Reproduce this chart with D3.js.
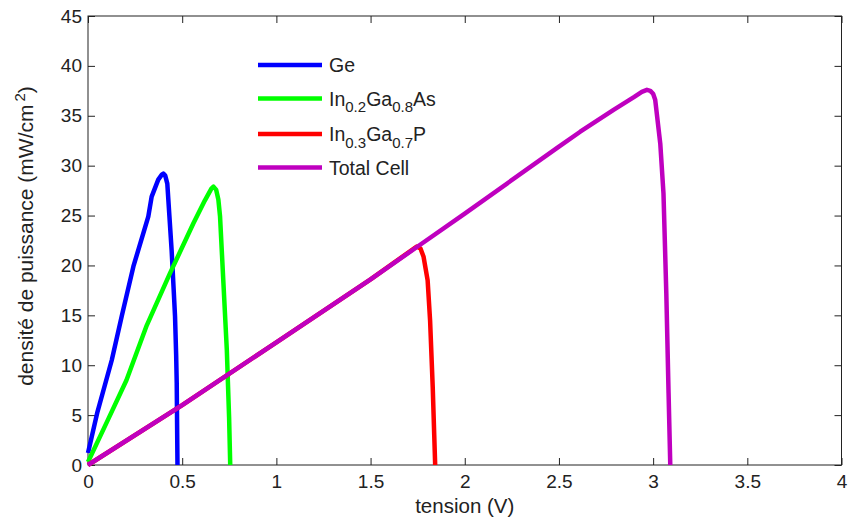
<!DOCTYPE html>
<html>
<head>
<meta charset="utf-8">
<script src="https://cdn.jsdelivr.net/npm/d3@7"></script>
<style>
  body { margin: 0; background: #fff; }
  text { font-family: Arial, "Liberation Sans", sans-serif; fill: #222; }
</style>
</head>
<body>
<script>
const W = 848, H = 519;
const margin = {left: 88, top: 16, right: 6.5, bottom: 54};

// courbes P(V)
const geV = [0, 0.05, 0.126, 0.179, 0.241, 0.32, 0.338, 0.373, 0.392, 0.40, 0.41, 0.421, 0.432, 0.444, 0.455, 0.462, 0.468, 0.471, 0.473, 0.475];
const geP = [1.2, 5.3, 10.5, 14.9, 19.9, 24.9, 26.9, 28.6, 29.1, 29.2, 29.0, 28.2, 25.0, 21.5, 17.5, 14.9, 11.0, 8.2, 4.0, 0];

const ingaasV = [0, 0.1, 0.204, 0.312, 0.435, 0.559, 0.62, 0.655, 0.666, 0.68, 0.692, 0.701, 0.719, 0.737, 0.749, 0.755];
const ingaasP = [0.3, 4.3, 8.5, 14.0, 19.2, 24.2, 26.5, 27.7, 27.9, 27.6, 26.6, 24.9, 18.2, 11.5, 4.8, 0];

const ingapV = [0, 0.5, 1, 1.5, 1.745, 1.765, 1.781, 1.803, 1.816, 1.830, 1.838, 1.843];
const ingapP = [0, 6.0, 12.3, 18.6, 21.9, 21.7, 20.9, 18.5, 14.5, 7.8, 3.0, 0];

const totalV = [0, 0.5, 1, 1.5, 1.75, 2, 2.5, 2.613, 2.79, 2.9, 2.94, 2.967, 2.985, 3.0, 3.011, 3.038, 3.055, 3.07, 3.082, 3.091];
const totalP = [0, 6.0, 12.3, 18.6, 21.9, 25.2, 31.9, 33.4, 35.6, 36.9, 37.4, 37.6, 37.5, 37.2, 36.6, 32.2, 27.2, 17.2, 7.2, 0];

const series = [
  {name: ['Ge'], v: geV, p: geP, color: '#0000ff'},
  {name: ['In', '0.2', 'Ga', '0.8', 'As'], v: ingaasV, p: ingaasP, color: '#00ff00'},
  {name: ['In', '0.3', 'Ga', '0.7', 'P'], v: ingapV, p: ingapP, color: '#ff0000'},
  {name: ['Total Cell'], v: totalV, p: totalP, color: '#bf00bf'}
];

const xTicks = [0, 0.5, 1, 1.5, 2, 2.5, 3, 3.5, 4];
const yTicks = [0, 5, 10, 15, 20, 25, 30, 35, 40, 45];

const svg = d3.select('body').append('svg').attr('width', W).attr('height', H);

const x = d3.scaleLinear().domain([0, 4]).range([margin.left, W - margin.right]);
const y = d3.scaleLinear().domain([0, 45]).range([H - margin.bottom, margin.top]);

// axes avec graduations vers l'intérieur
const tk = 7;
svg.append('g').attr('transform', `translate(0,${y(0)})`)
  .call(d3.axisBottom(x).tickValues(xTicks).tickSize(-tk).tickPadding(10).tickFormat(d3.format('')))
  .call(g => g.select('.domain').remove());
svg.append('g').attr('transform', `translate(0,${y(45)})`)
  .call(d3.axisTop(x).tickValues(xTicks).tickSize(-tk).tickFormat(''))
  .call(g => g.select('.domain').remove());
svg.append('g').attr('transform', `translate(${x(0)},0)`)
  .call(d3.axisLeft(y).tickValues(yTicks).tickSize(-tk).tickPadding(6))
  .call(g => g.select('.domain').remove());
svg.append('g').attr('transform', `translate(${x(4)},0)`)
  .call(d3.axisRight(y).tickValues(yTicks).tickSize(-tk).tickFormat(''))
  .call(g => g.select('.domain').remove());

svg.selectAll('.tick line').attr('stroke', '#222');
svg.selectAll('.tick text').attr('font-size', 19).attr('fill', '#222')
  .attr('font-family', 'Arial, "Liberation Sans", sans-serif');

svg.append('rect')
  .attr('x', x(0)).attr('y', y(45))
  .attr('width', x(4) - x(0)).attr('height', y(0) - y(45))
  .attr('fill', 'none').attr('stroke', '#222').attr('stroke-width', 1);

// courbes
const line = d3.line().x(d => x(d[0])).y(d => y(d[1]));
svg.append('g').selectAll('path')
  .data(series)
  .join('path')
  .attr('d', s => line(s.v.map((v, i) => [v, s.p[i]])))
  .attr('fill', 'none')
  .attr('stroke', s => s.color)
  .attr('stroke-width', 4.5)
  .attr('stroke-linejoin', 'round');

// légende
const legY = [65, 98.5, 134, 167.5];
const leg = svg.append('g');
series.forEach((s, i) => {
  leg.append('line')
    .attr('x1', 258).attr('x2', 322).attr('y1', legY[i]).attr('y2', legY[i])
    .attr('stroke', s.color).attr('stroke-width', 4.5);
  const t = leg.append('text').attr('x', 329).attr('y', legY[i] + 7).attr('font-size', 19.5);
  s.name.forEach((part, j) => {
    const sub = j % 2 === 1;
    t.append('tspan')
      .attr('dy', j === 0 ? 0 : (sub ? 6.5 : -6.5))
      .attr('font-size', sub ? 15 : 19.5)
      .text(part);
  });
});

// titres des axes
svg.append('text')
  .attr('x', (x(0) + x(4)) / 2).attr('y', 513)
  .attr('text-anchor', 'middle').attr('font-size', 20.5)
  .text('tension (V)');

const yl = svg.append('text')
  .attr('transform', `translate(33,236) rotate(-90)`)
  .attr('text-anchor', 'middle').attr('font-size', 21);
yl.append('tspan').text('densité de puissance (mW/cm');
yl.append('tspan').attr('dx', 3).attr('dy', -8).attr('font-size', 15).text('2');
yl.append('tspan').attr('dy', 8).text(')');
</script>
</body>
</html>
